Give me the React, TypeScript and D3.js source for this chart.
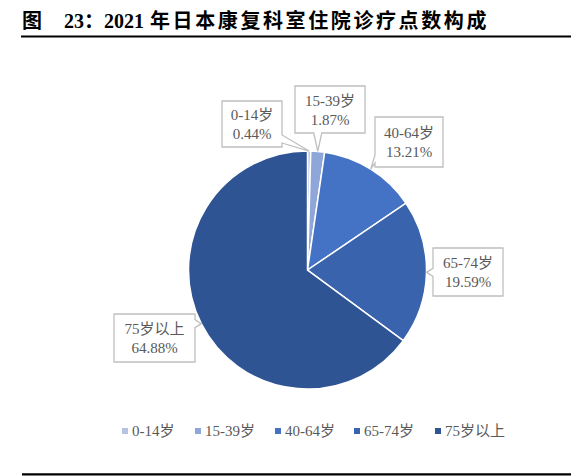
import React from 'react';
import * as d3 from 'd3';

// chart values
const categories = ['0-14岁', '15-39岁', '40-64岁', '65-74岁', '75岁以上'];
const shares = [0.44, 1.87, 13.21, 19.59, 64.88];
const colors = ['#B6C3E4', '#8FA7D8', '#4472C4', '#3A63AD', '#2F5493'];

// label box layout (x, y, width, height)
const labelBoxes = [
  [222, 101, 60, 46],
  [295, 86, 70, 47],
  [375, 117, 68, 50],
  [433, 248, 70, 48],
  [114, 314, 81, 48],
];

const W = 572;
const H = 476;
const cx = 307.5;
const cy = 270;
const radius = 119;

const serif = '"Times New Roman", "Liberation Serif", "Noto Sans CJK SC", serif';

// rectangle callout with a wedge pointing at (tx, ty)
function calloutPath(x0: number, y0: number, w: number, h: number, tx: number, ty: number) {
  const x1 = x0 + w;
  const y1 = y0 + h;
  const mx = x0 + w / 2;
  const my = y0 + h / 2;
  const dx = (tx - mx) / (w / 2);
  const dy = (ty - my) / (h / 2);
  const hw = 4;
  const clamp = (v: number, a: number, b: number) => Math.max(a, Math.min(b, v));
  const p = d3.path();
  p.moveTo(x0, y0);
  if (Math.abs(dy) > Math.abs(dx) && dy < 0) {
    const c = clamp(tx, x0 + hw + 4, x1 - hw - 4);
    p.lineTo(c - hw, y0); p.lineTo(tx, ty); p.lineTo(c + hw, y0);
  }
  p.lineTo(x1, y0);
  if (Math.abs(dx) >= Math.abs(dy) && dx > 0) {
    const c = clamp(ty, y0 + hw + 4, y1 - hw - 4);
    p.lineTo(x1, c - hw); p.lineTo(tx, ty); p.lineTo(x1, c + hw);
  }
  p.lineTo(x1, y1);
  if (Math.abs(dy) > Math.abs(dx) && dy > 0) {
    const c = clamp(tx, x0 + hw + 4, x1 - hw - 4);
    p.lineTo(c + hw, y1); p.lineTo(tx, ty); p.lineTo(c - hw, y1);
  }
  p.lineTo(x0, y1);
  if (Math.abs(dx) >= Math.abs(dy) && dx < 0) {
    const c = clamp(ty, y0 + hw + 4, y1 - hw - 4);
    p.lineTo(x0, c + hw); p.lineTo(tx, ty); p.lineTo(x0, c - hw);
  }
  p.closePath();
  return p.toString();
}

export default function App() {
  const data = categories.map((c, i) => ({ name: c, value: shares[i], color: colors[i] }));
  const pie = d3.pie<{ name: string; value: number; color: string }>()
    .value(d => d.value)
    .sort(null);
  const arcs = pie(data);
  const arc = d3.arc<d3.PieArcDatum<{ name: string; value: number; color: string }>>()
    .innerRadius(0)
    .outerRadius(radius);

  const legendX = d3.scaleOrdinal<string, number>()
    .domain(categories)
    .range([122, 195, 275, 354, 435]);

  return (
    <svg width={W} height={H} style={{ position: 'absolute', left: 0, top: 0, background: '#fff' }}>
      <text x={22} y={28} fontFamily={serif} fontWeight="bold" fontSize={20} fill="#000">
        <tspan>图</tspan>
        <tspan x={64}>23：2021</tspan>
        <tspan x={150} letterSpacing={2.6}>年日本康复科室住院诊疗点数构成</tspan>
      </text>
      <line x1={21} x2={571} y1={36.5} y2={36.5} stroke="#000" strokeWidth={2.2} />

      <g transform={`translate(${cx},${cy})`}>
        {arcs.map(a => (
          <path key={a.data.name} d={arc(a) || ''} fill={a.data.color} stroke="#fff" strokeWidth={1.5} />
        ))}
      </g>

      {arcs.map((a, i) => {
        const mid = (a.startAngle + a.endAngle) / 2;
        const tx = cx + radius * Math.sin(mid);
        const ty = cy - radius * Math.cos(mid);
        const [bx, by, bw, bh] = labelBoxes[i];
        return (
          <g key={a.data.name}>
            <path d={calloutPath(bx, by, bw, bh, tx, ty)} fill="#fff" stroke="#BFBFBF" strokeWidth={1.3} />
            <text x={bx + bw / 2} y={by + bh / 2 - 4} textAnchor="middle" fontFamily={serif} fontSize={15} fill="#595959">
              {a.data.name}
            </text>
            <text x={bx + bw / 2} y={by + bh / 2 + 15} textAnchor="middle" fontFamily={serif} fontSize={15} fill="#595959">
              {`${a.data.value.toFixed(2)}%`}
            </text>
          </g>
        );
      })}

      {data.map(d => (
        <g key={d.name} transform={`translate(${legendX(d.name)},431)`}>
          <rect x={0} y={-3} width={6} height={6} fill={d.color} />
          <text x={10} y={5} fontFamily={serif} fontSize={15} fill="#595959">{d.name}</text>
        </g>
      ))}

      <line x1={22} x2={571} y1={474.3} y2={474.3} stroke="#000" strokeWidth={2.2} />
    </svg>
  );
}
